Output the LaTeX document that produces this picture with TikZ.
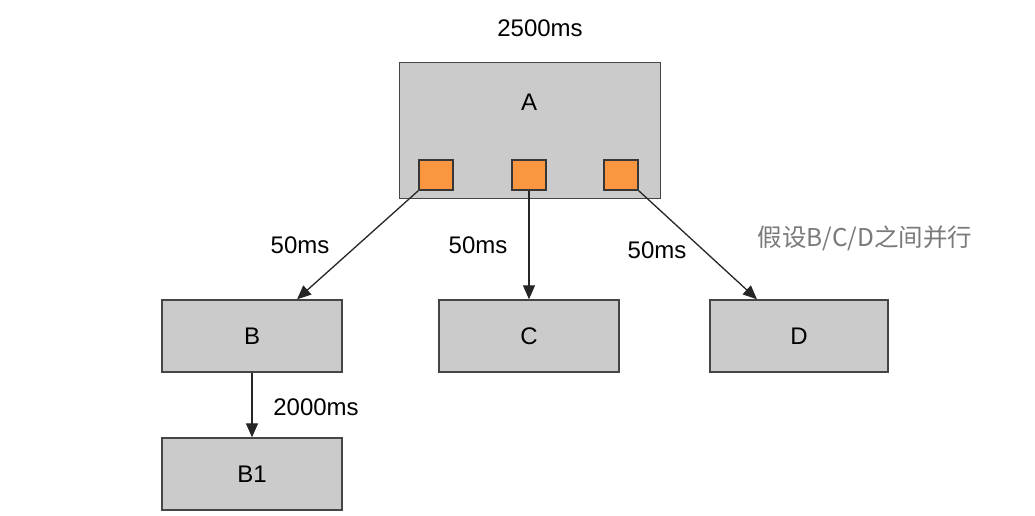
\documentclass[tikz,border=0pt]{standalone}
\usepackage{fontspec}
\setmainfont{Liberation Sans}
\newfontfamily\cjk{Noto Sans CJK SC}
\usetikzlibrary{arrows.meta}
\definecolor{boxfill}{HTML}{CBCBCB}
\definecolor{boxline}{HTML}{454545}
\definecolor{orng}{HTML}{FA9640}
\definecolor{notegray}{HTML}{7A7A7A}
\begin{document}
\begin{tikzpicture}[x=1pt,y=-1pt,
  box/.style={draw=boxline,fill=boxfill,line width=1.4pt,inner sep=0pt,
    font=\fontsize{24}{28}\selectfont},
  port/.style={draw=boxline!80!black,fill=orng,line width=1.4pt,inner sep=0pt,
    minimum width=34pt,minimum height=30pt},
  lbl/.style={inner sep=0pt,font=\fontsize{24}{28}\selectfont},
  conn/.style={line width=1.3pt,draw=black!85,-{Triangle[length=14pt,width=12pt]}}]
\useasboundingbox (0,0) rectangle (1035,515);
\fill[white] (0,0) rectangle (1035,515);
\node[box,minimum width=261pt,minimum height=136pt,anchor=north west] (A) at (399,62) {};
\node[lbl] (Alabel) at (529,102) {A};
\node[port] (s1) at (436,175) {};
\node[port] (s2) at (529,175) {};
\node[port] (s3) at (621,175) {};
\node[box,minimum width=180pt,minimum height=72pt] (B) at (252,336) {B};
\node[box,minimum width=180pt,minimum height=72pt] (C) at (529,336) {C};
\node[box,minimum width=178pt,minimum height=72pt] (D) at (799,336) {D};
\node[box,minimum width=180pt,minimum height=72pt] (B1) at (252,474) {B1};
\draw[conn] (s1.south west) -- ([xshift=45pt]B.north);
\draw[conn] (s2.south) -- (C.north);
\draw[conn] (s3.south east) -- ([xshift=-42pt]D.north);
\draw[conn] (B.south) -- (B1.north);
\node[lbl] (t0) at (540,28) {2500ms};
\node[lbl] (t1) at (300,245) {50ms};
\node[lbl] (t2) at (478,245) {50ms};
\node[lbl] (t3) at (657,250) {50ms};
\node[lbl] (t4) at (316,407) {2000ms};
\node[lbl,text=notegray,font=\cjk\fontsize{24.5}{28}\selectfont] (note) at (865,238) {假设B/C/D之间并行};
\end{tikzpicture}
\end{document}
